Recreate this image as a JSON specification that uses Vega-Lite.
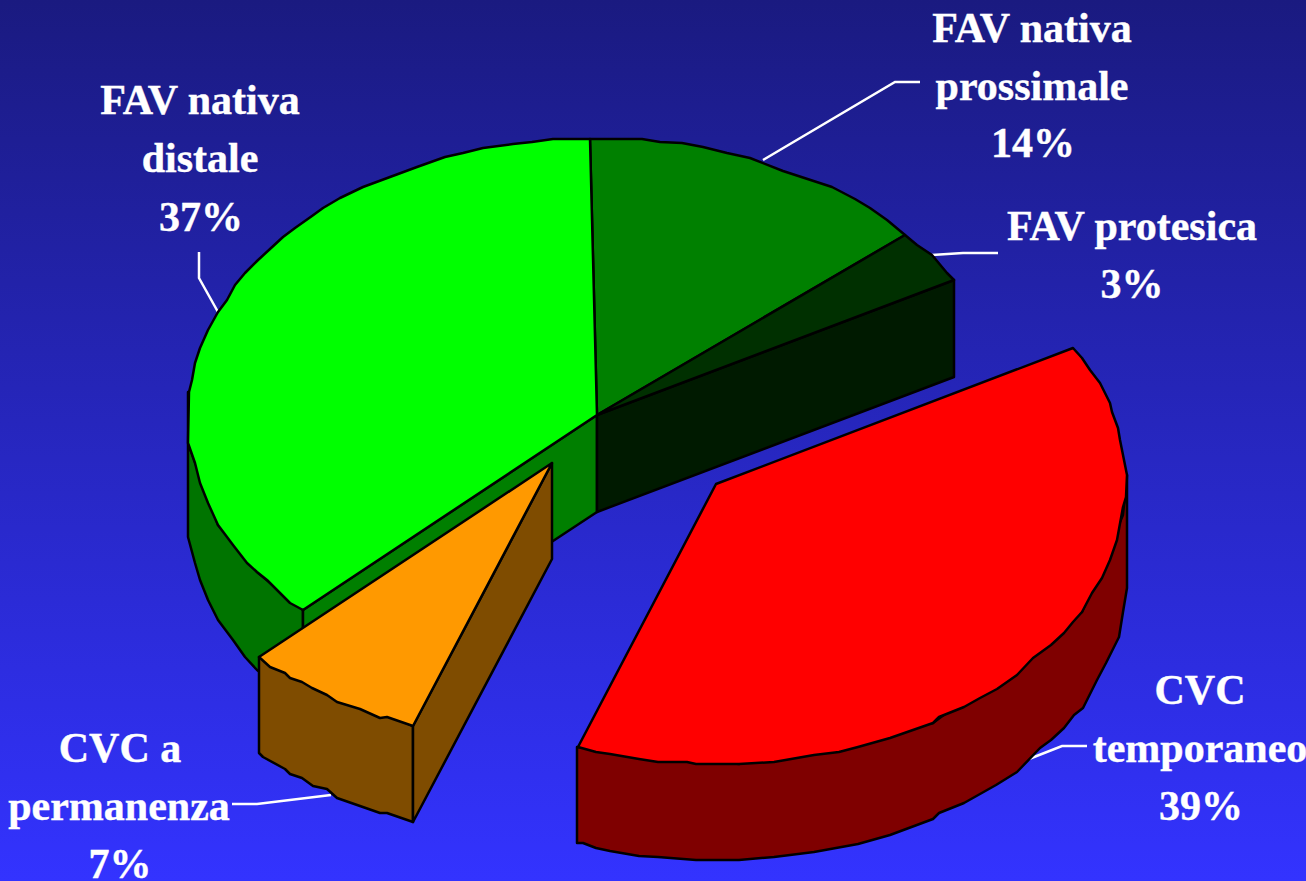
{"$schema":"https://vega.github.io/schema/vega-lite/v6.json","autosize":{"type":"none"},"width":1306,"height":881,"padding":0,"background":"#3333ff","config":{"view":{"stroke":null}},"datasets":{"bg":[{"x":0,"x2":1306,"y":0,"y2":881}],"shapes":[
{"part":"a","seq":1,"x":188,"y":392},{"part":"a","seq":2,"x":188,"y":537},{"part":"a","seq":3,"x":195,"y":563},{"part":"a","seq":4,"x":200,"y":580},{"part":"a","seq":5,"x":208,"y":600},{"part":"a","seq":6,"x":218,"y":620},{"part":"a","seq":7,"x":233,"y":640},{"part":"a","seq":8,"x":245,"y":657},{"part":"a","seq":9,"x":257,"y":670},{"part":"a","seq":10,"x":303,"y":705},{"part":"a","seq":11,"x":303,"y":610},{"part":"a","seq":12,"x":257,"y":572},{"part":"a","seq":13,"x":218,"y":525},{"part":"a","seq":14,"x":188,"y":443},
{"part":"b","seq":1,"x":303,"y":610},{"part":"b","seq":2,"x":597,"y":415},{"part":"b","seq":3,"x":597,"y":512},{"part":"b","seq":4,"x":553,"y":541},{"part":"b","seq":5,"x":303,"y":705},
{"part":"c","seq":1,"x":597,"y":415},{"part":"c","seq":2,"x":954,"y":280},{"part":"c","seq":3,"x":954,"y":377},{"part":"c","seq":4,"x":597,"y":512},
{"part":"d","seq":1,"x":597,"y":415},{"part":"d","seq":2,"x":590,"y":139},{"part":"d","seq":3,"x":642,"y":139},{"part":"d","seq":4,"x":660,"y":142},{"part":"d","seq":5,"x":682,"y":143},{"part":"d","seq":6,"x":703,"y":147},{"part":"d","seq":7,"x":727,"y":153},{"part":"d","seq":8,"x":750,"y":158},{"part":"d","seq":9,"x":783,"y":171},{"part":"d","seq":10,"x":832,"y":187},{"part":"d","seq":11,"x":855,"y":199},{"part":"d","seq":12,"x":870,"y":208},{"part":"d","seq":13,"x":887,"y":220},{"part":"d","seq":14,"x":905,"y":235},
{"part":"e","seq":1,"x":597,"y":415},{"part":"e","seq":2,"x":905,"y":235},{"part":"e","seq":3,"x":917,"y":245},{"part":"e","seq":4,"x":932,"y":255},{"part":"e","seq":5,"x":947,"y":273},{"part":"e","seq":6,"x":954,"y":280},
{"part":"f","seq":1,"x":597,"y":415},{"part":"f","seq":2,"x":590,"y":139},{"part":"f","seq":3,"x":553,"y":139},{"part":"f","seq":4,"x":532,"y":142},{"part":"f","seq":5,"x":513,"y":144},{"part":"f","seq":6,"x":483,"y":148},{"part":"f","seq":7,"x":463,"y":153},{"part":"f","seq":8,"x":445,"y":157},{"part":"f","seq":9,"x":417,"y":167},{"part":"f","seq":10,"x":390,"y":177},{"part":"f","seq":11,"x":363,"y":187},{"part":"f","seq":12,"x":340,"y":198},{"part":"f","seq":13,"x":323,"y":208},{"part":"f","seq":14,"x":312,"y":216},{"part":"f","seq":15,"x":295,"y":228},{"part":"f","seq":16,"x":283,"y":237},{"part":"f","seq":17,"x":270,"y":249},{"part":"f","seq":18,"x":257,"y":261},{"part":"f","seq":19,"x":245,"y":273},{"part":"f","seq":20,"x":235,"y":285},{"part":"f","seq":21,"x":227,"y":300},{"part":"f","seq":22,"x":218,"y":312},{"part":"f","seq":23,"x":208,"y":330},{"part":"f","seq":24,"x":200,"y":348},{"part":"f","seq":25,"x":195,"y":363},{"part":"f","seq":26,"x":192,"y":380},{"part":"f","seq":27,"x":189,"y":392},{"part":"f","seq":28,"x":188,"y":443},{"part":"f","seq":29,"x":195,"y":463},{"part":"f","seq":30,"x":200,"y":483},{"part":"f","seq":31,"x":208,"y":503},{"part":"f","seq":32,"x":218,"y":525},{"part":"f","seq":33,"x":233,"y":545},{"part":"f","seq":34,"x":247,"y":563},{"part":"f","seq":35,"x":257,"y":572},{"part":"f","seq":36,"x":267,"y":580},{"part":"f","seq":37,"x":277,"y":590},{"part":"f","seq":38,"x":290,"y":603},{"part":"f","seq":39,"x":303,"y":610},
{"part":"g","seq":1,"x":259,"y":657},{"part":"g","seq":2,"x":259,"y":753},{"part":"g","seq":3,"x":263,"y":757},{"part":"g","seq":4,"x":285,"y":769},{"part":"g","seq":5,"x":290,"y":774},{"part":"g","seq":6,"x":302,"y":778},{"part":"g","seq":7,"x":313,"y":786},{"part":"g","seq":8,"x":327,"y":789},{"part":"g","seq":9,"x":337,"y":798},{"part":"g","seq":10,"x":360,"y":806},{"part":"g","seq":11,"x":380,"y":813},{"part":"g","seq":12,"x":387,"y":813},{"part":"g","seq":13,"x":413,"y":822},{"part":"g","seq":14,"x":413,"y":726},
{"part":"h","seq":1,"x":552,"y":463},{"part":"h","seq":2,"x":413,"y":726},{"part":"h","seq":3,"x":413,"y":822},{"part":"h","seq":4,"x":552,"y":559},
{"part":"i","seq":1,"x":552,"y":463},{"part":"i","seq":2,"x":259,"y":657},{"part":"i","seq":3,"x":270,"y":667},{"part":"i","seq":4,"x":285,"y":673},{"part":"i","seq":5,"x":290,"y":678},{"part":"i","seq":6,"x":302,"y":682},{"part":"i","seq":7,"x":312,"y":688},{"part":"i","seq":8,"x":327,"y":695},{"part":"i","seq":9,"x":337,"y":702},{"part":"i","seq":10,"x":360,"y":709},{"part":"i","seq":11,"x":380,"y":718},{"part":"i","seq":12,"x":387,"y":717},{"part":"i","seq":13,"x":413,"y":726},
{"part":"j","seq":1,"x":1127,"y":475},{"part":"j","seq":2,"x":1127,"y":588},{"part":"j","seq":3,"x":1123,"y":612},{"part":"j","seq":4,"x":1119,"y":637},{"part":"j","seq":5,"x":1106,"y":663},{"part":"j","seq":6,"x":1097,"y":680},{"part":"j","seq":7,"x":1083,"y":708},{"part":"j","seq":8,"x":1074,"y":715},{"part":"j","seq":9,"x":1064,"y":728},{"part":"j","seq":10,"x":1051,"y":740},{"part":"j","seq":11,"x":1040,"y":748},{"part":"j","seq":12,"x":1017,"y":772},{"part":"j","seq":13,"x":996,"y":785},{"part":"j","seq":14,"x":964,"y":803},{"part":"j","seq":15,"x":939,"y":813},{"part":"j","seq":16,"x":933,"y":819},{"part":"j","seq":17,"x":890,"y":835},{"part":"j","seq":18,"x":858,"y":844},{"part":"j","seq":19,"x":814,"y":852},{"part":"j","seq":20,"x":774,"y":857},{"part":"j","seq":21,"x":739,"y":860},{"part":"j","seq":22,"x":696,"y":860},{"part":"j","seq":23,"x":658,"y":857},{"part":"j","seq":24,"x":639,"y":856},{"part":"j","seq":25,"x":610,"y":851},{"part":"j","seq":26,"x":596,"y":848},{"part":"j","seq":27,"x":583,"y":843},{"part":"j","seq":28,"x":577,"y":843},{"part":"j","seq":29,"x":577,"y":747},{"part":"j","seq":30,"x":739,"y":764},{"part":"j","seq":31,"x":933,"y":723},{"part":"j","seq":32,"x":1082,"y":612},{"part":"j","seq":33,"x":1123,"y":515},
{"part":"k","seq":1,"x":1073,"y":348},{"part":"k","seq":2,"x":1082,"y":358},{"part":"k","seq":3,"x":1090,"y":370},{"part":"k","seq":4,"x":1100,"y":383},{"part":"k","seq":5,"x":1110,"y":403},{"part":"k","seq":6,"x":1112,"y":412},{"part":"k","seq":7,"x":1118,"y":428},{"part":"k","seq":8,"x":1120,"y":440},{"part":"k","seq":9,"x":1123,"y":455},{"part":"k","seq":10,"x":1127,"y":475},{"part":"k","seq":11,"x":1126,"y":497},{"part":"k","seq":12,"x":1123,"y":507},{"part":"k","seq":13,"x":1117,"y":540},{"part":"k","seq":14,"x":1110,"y":560},{"part":"k","seq":15,"x":1102,"y":578},{"part":"k","seq":16,"x":1092,"y":593},{"part":"k","seq":17,"x":1082,"y":612},{"part":"k","seq":18,"x":1073,"y":622},{"part":"k","seq":19,"x":1064,"y":633},{"part":"k","seq":20,"x":1051,"y":645},{"part":"k","seq":21,"x":1033,"y":658},{"part":"k","seq":22,"x":1017,"y":675},{"part":"k","seq":23,"x":997,"y":689},{"part":"k","seq":24,"x":980,"y":698},{"part":"k","seq":25,"x":964,"y":707},{"part":"k","seq":26,"x":939,"y":717},{"part":"k","seq":27,"x":933,"y":723},{"part":"k","seq":28,"x":890,"y":738},{"part":"k","seq":29,"x":858,"y":747},{"part":"k","seq":30,"x":839,"y":752},{"part":"k","seq":31,"x":814,"y":755},{"part":"k","seq":32,"x":774,"y":762},{"part":"k","seq":33,"x":739,"y":764},{"part":"k","seq":34,"x":696,"y":764},{"part":"k","seq":35,"x":687,"y":762},{"part":"k","seq":36,"x":658,"y":762},{"part":"k","seq":37,"x":639,"y":759},{"part":"k","seq":38,"x":610,"y":754},{"part":"k","seq":39,"x":596,"y":752},{"part":"k","seq":40,"x":578,"y":747},{"part":"k","seq":41,"x":716,"y":484}
],"leaders":[
{"label":"FAV nativa distale","seq":1,"x":199,"y":252},{"label":"FAV nativa distale","seq":2,"x":199,"y":278},{"label":"FAV nativa distale","seq":3,"x":218,"y":312},
{"label":"FAV nativa prossimale","seq":1,"x":920,"y":82},{"label":"FAV nativa prossimale","seq":2,"x":895,"y":82},{"label":"FAV nativa prossimale","seq":3,"x":763,"y":160},
{"label":"FAV protesica","seq":1,"x":998,"y":253},{"label":"FAV protesica","seq":2,"x":963,"y":253},{"label":"FAV protesica","seq":3,"x":932,"y":255},
{"label":"CVC temporaneo","seq":1,"x":1087,"y":746},{"label":"CVC temporaneo","seq":2,"x":1062,"y":746},{"label":"CVC temporaneo","seq":3,"x":1029,"y":759},
{"label":"CVC a permanenza","seq":1,"x":232,"y":804},{"label":"CVC a permanenza","seq":2,"x":257,"y":804},{"label":"CVC a permanenza","seq":3,"x":331,"y":795}
],"labels":[
{"t":"FAV nativa","x":200,"y":114},{"t":"distale","x":200,"y":172},{"t":"37%","x":201,"y":231},
{"t":"FAV nativa","x":1032,"y":42},{"t":"prossimale","x":1032,"y":100},{"t":"14%","x":1033,"y":157},
{"t":"FAV protesica","x":1132,"y":240},{"t":"3%","x":1132,"y":298},
{"t":"CVC","x":1200,"y":704},{"t":"temporaneo","x":1200,"y":762},{"t":"39%","x":1201,"y":820},
{"t":"CVC a","x":120,"y":762},{"t":"permanenza","x":119,"y":820},{"t":"7%","x":120,"y":878}
]},
"layer":[
{"data":{"name":"bg"},"mark":{"type":"rect","fill":{"gradient":"linear","x1":0,"y1":0,"x2":0,"y2":1,"stops":[{"offset":0,"color":"#1a1a80"},{"offset":1,"color":"#3333ff"}]}},"encoding":{"x":{"field":"x","type":"quantitative","scale":{"domain":[0,1306],"nice":false,"zero":false},"axis":null},"x2":{"field":"x2"},"y":{"field":"y","type":"quantitative","scale":{"domain":[881,0],"nice":false,"zero":false},"axis":null},"y2":{"field":"y2"}}},
{"data":{"name":"leaders"},"mark":{"type":"line","stroke":"#ffffff","strokeWidth":2.5},"encoding":{"x":{"field":"x","type":"quantitative","scale":{"domain":[0,1306],"nice":false,"zero":false},"axis":null},"y":{"field":"y","type":"quantitative","scale":{"domain":[881,0],"nice":false,"zero":false},"axis":null},"detail":{"field":"label"},"order":{"field":"seq","type":"quantitative"}}},
{"data":{"name":"shapes"},"mark":{"type":"line","interpolate":"linear-closed","stroke":"#000000","strokeWidth":2.5,"strokeJoin":"round"},"encoding":{"x":{"field":"x","type":"quantitative","scale":{"domain":[0,1306],"nice":false,"zero":false},"axis":null},"y":{"field":"y","type":"quantitative","scale":{"domain":[881,0],"nice":false,"zero":false},"axis":null},"fill":{"field":"part","type":"nominal","legend":null,"scale":{"domain":["a","b","c","d","e","f","g","h","i","j","k"],"range":["#007400","#007f00","#001a00","#008000","#003000","#00ff00","#7f4c00","#7f4c00","#ff9900","#7f0000","#ff0000"]}},"detail":{"field":"part"},"order":{"field":"seq","type":"quantitative"}}},
{"data":{"name":"labels"},"mark":{"type":"text","font":"Liberation Serif","fontWeight":"bold","fontSize":42,"fill":"#ffffff","stroke":"#ffffff","strokeWidth":0.4,"align":"center","baseline":"alphabetic"},"encoding":{"x":{"field":"x","type":"quantitative","scale":{"domain":[0,1306],"nice":false,"zero":false},"axis":null},"y":{"field":"y","type":"quantitative","scale":{"domain":[881,0],"nice":false,"zero":false},"axis":null},"text":{"field":"t"}}}
]}
